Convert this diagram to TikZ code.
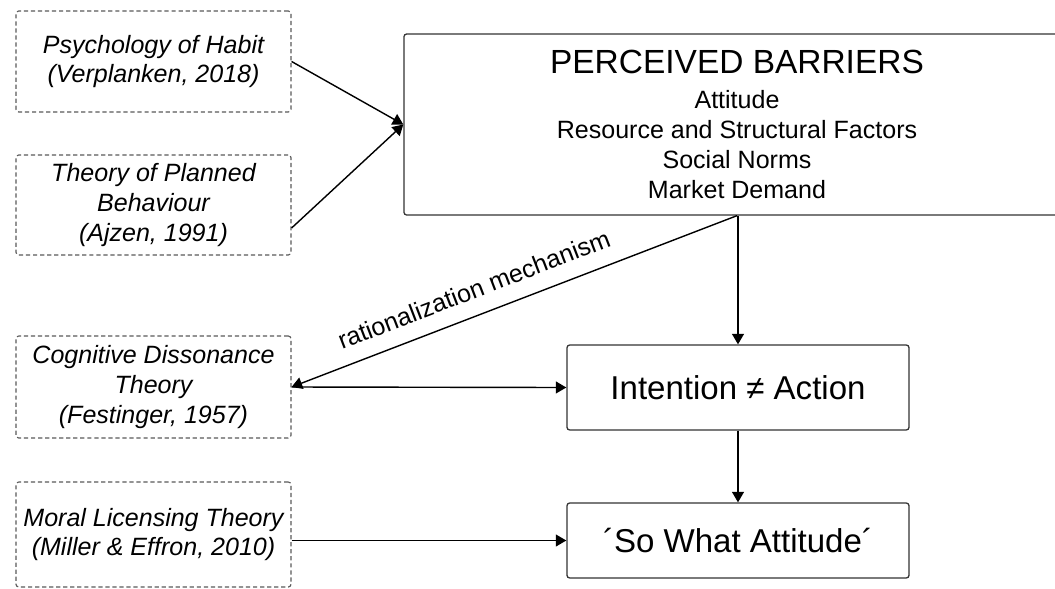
\documentclass[tikz,border=0pt]{standalone}
\usepackage{fontspec}
\setmainfont{Liberation Sans}
\usetikzlibrary{arrows.meta}

\begin{document}
\begin{tikzpicture}[x=0.025cm, y=-0.025cm,
  theory/.style={draw=black!65, dash pattern=on 3pt off 2pt, line width=0.8pt, rounded corners=2pt,
    minimum width=6.875cm, inner sep=3pt, align=center, font=\fontsize{17.8pt}{21.3pt}\selectfont\itshape},
  barrier/.style={draw=black!80, line width=0.9pt, rounded corners=2pt, minimum width=16.65cm,
    minimum height=4.525cm, align=center, font=\fontsize{17.8pt}{21.3pt}\selectfont},
  outcome/.style={draw=black!80, line width=0.9pt, rounded corners=2pt, minimum width=8.55cm,
    font=\fontsize{23.5pt}{28pt}\selectfont},
  link/.style={line width=1pt, >={Triangle[length=7.5pt,width=8.5pt]}}]
  \clip (0,0) rectangle (1055,588);

  % theories on the left
  \node[theory, minimum height=2.525cm] (habit) at (153.5,61.5) {Psychology of Habit\\(Verplanken, 2018)};
  \node[theory, minimum height=2.5cm] (planned) at (153.5,205) {Theory of Planned\\Behaviour\\(Ajzen, 1991)};
  \node[theory, minimum height=2.55cm] (cog) at (153.5,387) {Cognitive Dissonance\\Theory\\(Festinger, 1957)};
  \node[theory, minimum height=2.625cm] (moral) at (153.5,534.5) {Moral Licensing Theory\\(Miller \& Effron, 2010)};

  % barriers and outcomes
  \node[barrier] (pb) at (737,124.5) {{\fontsize{23.8pt}{28pt}\selectfont PERCEIVED BARRIERS}\\[3.5pt]
    Attitude\\Resource and Structural Factors\\Social Norms\\Market Demand};
  \node[outcome, minimum height=2.125cm] (gap) at (738,387.5) {Intention ≠ Action};
  \node[outcome, minimum height=1.875cm] (sowhat) at (738,540.5) {´So What Attitude´};

  \draw[link, ->] (habit.east) -- (pb.west);
  \draw[link, ->] ([yshift=-0.575cm]planned.east) -- (pb.west);
  \draw[link, ->] (gap.north |- pb.south) -- (gap.north);
  \draw[link, <-] (cog.east) -- node[sloped, above=8pt, pos=0.43, font=\fontsize{17.8pt}{21pt}\selectfont]
    {rationalization mechanism} (pb.south);
  \draw[link, ->] (cog.east) -- (gap.west);
  \draw[link, ->] (gap.south) -- (sowhat.north);
  \draw[link, ->] (moral.east |- sowhat.west) -- (sowhat.west);
\end{tikzpicture}
\end{document}
